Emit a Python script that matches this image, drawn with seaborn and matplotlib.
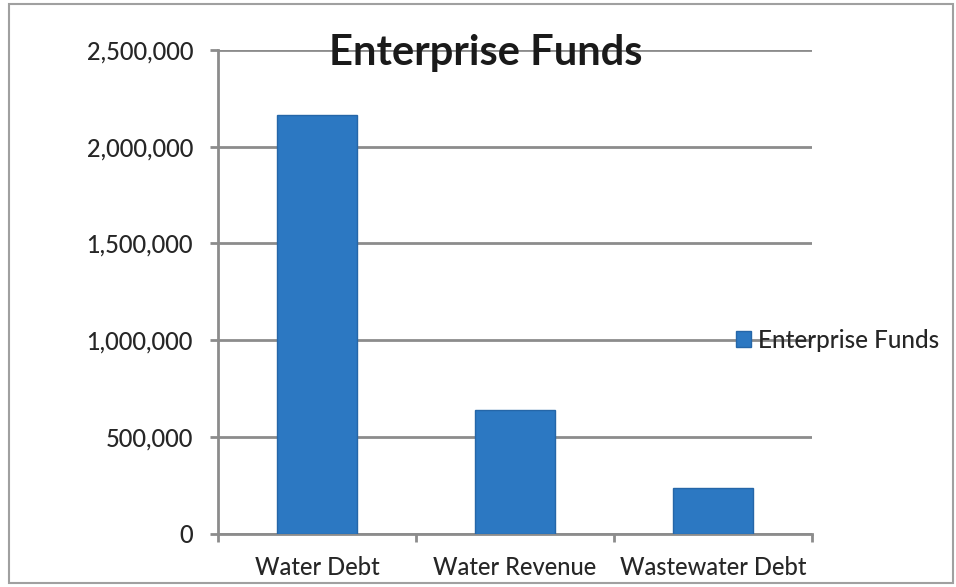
import matplotlib
matplotlib.use("Agg")
import matplotlib.pyplot as plt
import matplotlib.patches as mpatches
from matplotlib.ticker import FuncFormatter, FixedLocator
import seaborn as sns
import pandas as pd

# Fund balances by category
categories = ["Water Debt", "Water Revenue", "Wastewater Debt"]
amounts = [2165000, 640000, 235000]
series_name = "Enterprise Funds"
y_ticks = [0, 500000, 1000000, 1500000, 2000000, 2500000]

df = pd.DataFrame({"Category": categories, "Amount": amounts, "Series": series_name})

sns.set_theme(style="white")
plt.rcParams["font.family"] = ["Lato", "DejaVu Sans"]
plt.rcParams["font.weight"] = "medium"

bar_color = "#2C78C2"
grid_color = "#8C8C8C"
text_color = "#262626"

W, H = 956, 587
fig = plt.figure(figsize=(W / 100, H / 100), dpi=100)
ax = fig.add_axes([218 / W, (H - 533.5) / H, (812 - 218) / W, (533.5 - 50) / H])

sns.barplot(data=df, x="Category", y="Amount", hue="Series", palette=[bar_color],
            width=0.4, saturation=1, edgecolor="#2566A8", linewidth=1.0,
            legend=False, ax=ax, zorder=3)

ax.set_xlim(-0.5, 2.5)
ax.set_ylim(0, 2500000)
ax.set_yticks(y_ticks)
ax.yaxis.set_major_formatter(FuncFormatter(lambda v, p: f"{int(v):,}"))
ax.grid(axis="y", color=grid_color, linewidth=2.0, zorder=0)
ax.grid(axis="x", visible=False)

for side in ["top", "right"]:
    ax.spines[side].set_visible(False)
for side in ["left", "bottom"]:
    ax.spines[side].set_color(grid_color)
    ax.spines[side].set_linewidth(2.0)

ax.set_xlabel("")
ax.set_ylabel("")

# Category boundary ticks on the x axis, labels at bar centers
ax.xaxis.set_minor_locator(FixedLocator([-0.5, 0.5, 1.5, 2.5]))
ax.tick_params(axis="x", which="major", length=0, pad=16, labelsize=17, labelcolor=text_color)
ax.tick_params(axis="x", which="minor", length=6, width=2, color=grid_color, direction="out", bottom=True)
ax.tick_params(axis="y", which="major", length=6, width=2, color=grid_color, direction="out",
               pad=12, labelsize=17, labelcolor=text_color, left=True)

# Legend to the right of the plot
handle = mpatches.Patch(facecolor=bar_color, edgecolor="#2566A8", label=series_name)
fig.legend(handles=[handle], loc="center left", bbox_to_anchor=(736 / W, (H - 340) / H),
           frameon=False, fontsize=17.5, handlelength=0.6, handleheight=0.6,
           handletextpad=0.3, borderpad=0, borderaxespad=0, labelcolor=text_color)

fig.text(486 / W, (H - 65) / H, series_name, ha="center", va="baseline",
         fontsize=30, fontweight="bold", color="#1A1A1A")

# Chart frame
fig.patches.append(mpatches.Rectangle((9 / W, 4 / H), (953 - 9) / W, (583 - 4) / H,
                                      transform=fig.transFigure, fill=False,
                                      edgecolor="#A0A0A0", linewidth=1.5))

fig.savefig("out.png", dpi=100)
